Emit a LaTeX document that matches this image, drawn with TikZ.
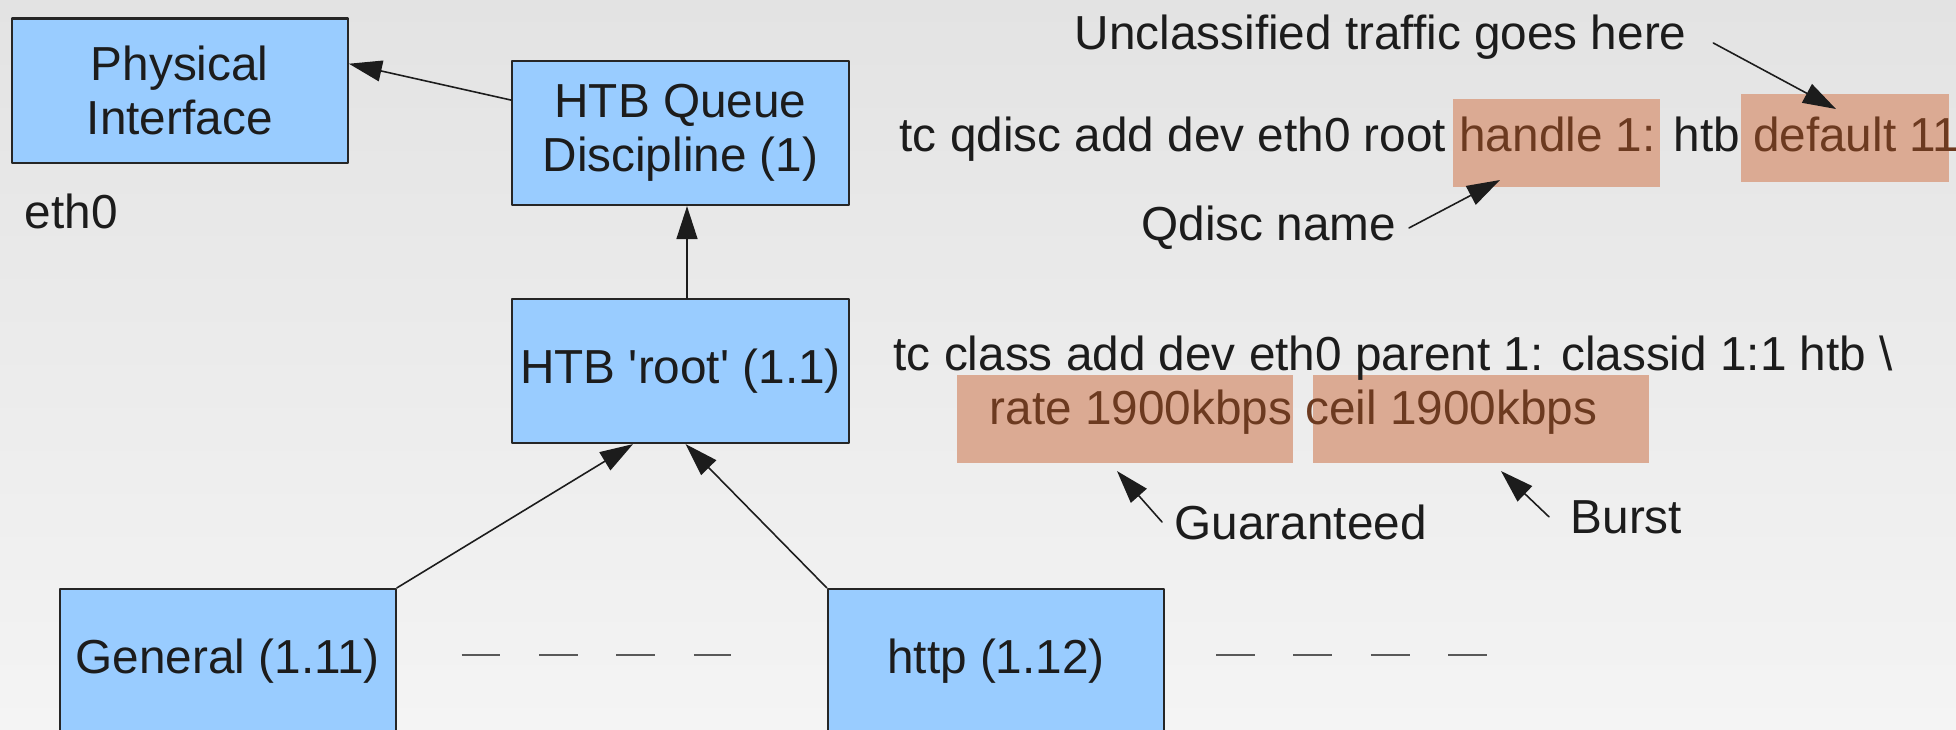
\documentclass[tikz,border=0pt]{standalone}
\usepackage{fontspec}
\setmainfont{Liberation Sans}
\usepackage{xcolor}
\usetikzlibrary{arrows.meta}
\definecolor{boxblue}{HTML}{99CCFF}
\definecolor{hlfill}{HTML}{DBAA93}
\definecolor{hltext}{HTML}{6C3A20}
\definecolor{bgtop}{HTML}{E3E3E3}
\definecolor{bgbot}{HTML}{F4F4F4}
\definecolor{inkc}{HTML}{1C1C1C}

\begin{document}
\begin{tikzpicture}[line cap=round,line join=round,>={Triangle[length=0.33cm,width=0.21cm]},x=0.01cm,y=-0.01cm,
	every node/.style={font=\fontsize{13.57}{15.4}\selectfont,text=inkc},
	qbox/.style={draw=black!85,line width=0.6pt,fill=boxblue,minimum width=3.36cm,minimum height=1.44cm,inner sep=0pt,align=center},
	hilite/.style={fill=hlfill,minimum height=0.88cm,inner sep=0pt},
	note/.style={inner sep=0.12cm,anchor=base west},
	cmd/.style={inner sep=0pt,anchor=base west},
	link/.style={->,line width=0.45pt,draw=inkc},
	gapline/.style={line cap=butt,line width=0.6pt,draw=black!65,dash pattern=on 0.387cm off 0.387cm}]
	\useasboundingbox (0,0) rectangle (1956,729);
	\clip (0,0) rectangle (1956,729);
	\shade[top color=bgtop,bottom color=bgbot] (0,0) rectangle (1956,729);
	\node[qbox] (phys) at (179.75,90.5) {Physical\\Interface};
	\node[cmd] (eth) at (24,228.7) {eth0};
	\node[qbox] (queue) at (680.5,133) {HTB Queue\\Discipline (1)};
	\node[qbox] (root) at (680.5,371) {HTB \textquotesingle root\textquotesingle{} (1.1)};
	\node[qbox] (gen) at (227.7,661) {General (1.11)};
	\node[qbox] (http) at (996,661) {http (1.12)};
	\draw[gapline] (461.6,655) -- (731,655);
	\draw[gapline] (1216,655) -- (1487,655);
	\node[hilite,minimum width=2.07cm] (handle) at (1556.5,143) {};
	\node[hilite,minimum width=2.08cm] (dflt) at (1845,138) {};
	\node[hilite,minimum width=3.36cm] (rate) at (1125,419) {};
	\node[hilite,minimum width=3.36cm] (ceil) at (1481,419) {};
	\node[cmd] (qdcmd) at (899,151.7) {tc qdisc add dev eth0 root \textcolor{hltext}{handle 1:} htb \textcolor{hltext}{default 11}};
	\node[cmd] (clcmd) at (893,370) {tc class add dev eth0 parent 1: classid 1:1 htb \textbackslash};
	\node[cmd] (clargs) at (989,424) {\textcolor{hltext}{rate 1900kbps ceil 1900kbps}};
	\node[note] (uncl) at (1062,49.3) {Unclassified traffic goes here};
	\node[note] (qname) at (1129,240.7) {Qdisc name};
	\node[note] (guar) at (1162,539) {Guaranteed};
	\node[note] (burst) at (1558,533) {Burst};
	\draw[link] (queue.169.4) -- (phys.9.9);
	\draw[link] ([xshift=0.065cm]root.north) -- ([xshift=0.065cm]queue.south);
	\draw[link] (gen.north east) -- (root.237);
	\draw[link] (http.north west) -- (root.-86);
	\draw[link] ([shift={(0.14cm,-0.06cm)}]uncl.east) -- ([shift={(-0.09cm,0.29cm)}]dflt.center);
	\draw[link] (qname.east) -- ([shift={(-0.565cm,-0.37cm)}]handle.center);
	\draw[link] (guar.west) -- ([shift={(-0.08cm,-0.52cm)}]rate.center);
	\draw[link] ([xshift=-0.09cm]burst.west) -- ([shift={(0.2cm,-0.52cm)}]ceil.center);
\end{tikzpicture}
\end{document}
